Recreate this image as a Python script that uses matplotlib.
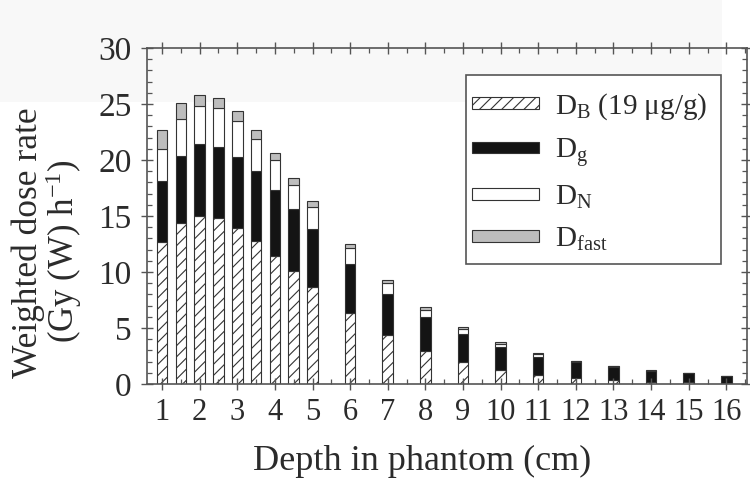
import matplotlib
matplotlib.use("Agg")
import matplotlib.pyplot as plt
from matplotlib.patches import Patch, Rectangle
from matplotlib.ticker import MultipleLocator

plt.rcParams["font.family"] = ["Liberation Serif", "DejaVu Serif"]
plt.rcParams["mathtext.fontset"] = "custom"
plt.rcParams["mathtext.rm"] = "Liberation Serif"
plt.rcParams["mathtext.it"] = "Liberation Serif:italic"
plt.rcParams["hatch.linewidth"] = 0.8
plt.rcParams["hatch.color"] = "#333333"

# Depth positions (cm) and weighted dose-rate components (Gy(W)/h)
depth = [1, 1.5, 2, 2.5, 3, 3.5, 4, 4.5, 5, 6, 7, 8, 9, 10, 11, 12, 13, 14, 15, 16]
d_boron = [12.7, 14.4, 15.0, 14.8, 13.95, 12.8, 11.4, 10.05, 8.7, 6.3,
           4.35, 2.95, 1.95, 1.25, 0.8, 0.5, 0.35, 0.22, 0.15, 0.1]
d_gamma = [5.4, 6.0, 6.4, 6.4, 6.35, 6.2, 5.95, 5.55, 5.15, 4.45,
           3.7, 3.0, 2.5, 2.05, 1.65, 1.45, 1.2, 0.95, 0.8, 0.6]
d_nitrogen = [2.85, 3.25, 3.4, 3.4, 3.15, 2.9, 2.65, 2.2, 1.95, 1.35,
              1.0, 0.7, 0.45, 0.3, 0.22, 0.07, 0.05, 0.03, 0.02, 0.02]
d_fast = [1.7, 1.4, 1.0, 0.9, 0.9, 0.75, 0.6, 0.6, 0.5, 0.4,
          0.25, 0.2, 0.15, 0.12, 0.1, 0.07, 0.03, 0.03, 0.02, 0.02]
x_ticks = list(range(1, 17))
y_ticks = [0, 5, 10, 15, 20, 25, 30]

labels = [r"D$_\mathrm{B}$ (19 μg/g)", r"D$_\mathrm{g}$", r"D$_\mathrm{N}$", r"D$_\mathrm{fast}$"]

W, H = 750, 483
fig = plt.figure(figsize=(W / 100, H / 100), dpi=100)
fig.patch.set_facecolor("white")
# faint grey band along the top of the page
fig.patches.append(Rectangle((0, 1 - 102 / H), 722 / W, 102 / H, transform=fig.transFigure,
                             facecolor="#f8f8f8", edgecolor="none", zorder=-10))

ax = fig.add_axes([147 / W, 1 - 384 / H, 600 / W, 336 / H])
ax.set_facecolor("none")

edge = "#333333"
bw = 0.28
bottom = [0.0] * len(depth)
styles = [
    dict(facecolor="white", hatch="///"),
    dict(facecolor="#141414"),
    dict(facecolor="white"),
    dict(facecolor="#bdbdbd"),
]
for vals, st in zip([d_boron, d_gamma, d_nitrogen, d_fast], styles):
    ax.bar(depth, vals, width=bw, bottom=bottom, edgecolor=edge, linewidth=0.8, **st)
    bottom = [b + v for b, v in zip(bottom, vals)]

ax.set_xlim(0.6, 16.55)
ax.set_ylim(0, 30)
ax.set_xticks(x_ticks)
ax.set_yticks(y_ticks)
ax.xaxis.set_minor_locator(MultipleLocator(0.5))
ax.yaxis.set_minor_locator(MultipleLocator(1))

txt = "#2b2b2b"
for s in ax.spines.values():
    s.set_color("#555555")
    s.set_linewidth(1.2)
ax.tick_params(which="major", direction="inout", length=8, width=1.0, color="#555555",
               top=True, right=True, labelcolor=txt, pad=6)
ax.tick_params(axis="x", which="major", labelsize=22)
ax.tick_params(axis="y", which="major", labelsize=24, pad=7)
ax.tick_params(which="minor", direction="in", length=3.5, width=0.9, color="#555555",
               top=True, right=True)

fig.text(422 / W, 1 - 461 / H, "Depth in phantom (cm)", ha="center", va="center",
         fontsize=26, color=txt)
fig.text(28 / W, 1 - 243 / H, "Weighted dose rate", rotation=90, ha="center", va="center",
         fontsize=25.5, color=txt)
fig.text(64 / W, 1 - 251 / H, r"(Gy (W) h$^{-1}$)", rotation=90, ha="center", va="center",
         fontsize=25, color=txt)

# legend frame and entries
fig.patches.append(Rectangle((466 / W, 1 - 264 / H), 255 / W, 189 / H, transform=fig.transFigure,
                             facecolor="white", edgecolor="#555555", linewidth=1.2, zorder=5))
handles = [Patch(edgecolor=edge, linewidth=0.8, **st) for st in styles]
leg = fig.legend(handles, labels, loc="upper left", bbox_to_anchor=(472 / W, 1 - 91 / H),
                 frameon=False, fontsize=21, handlelength=2.3, handleheight=0.25,
                 handletextpad=0.55, labelspacing=0.5, borderpad=0, borderaxespad=0)
leg.set_zorder(6)
for t in leg.get_texts():
    t.set_color(txt)

fig.savefig("out.png", dpi=100)
